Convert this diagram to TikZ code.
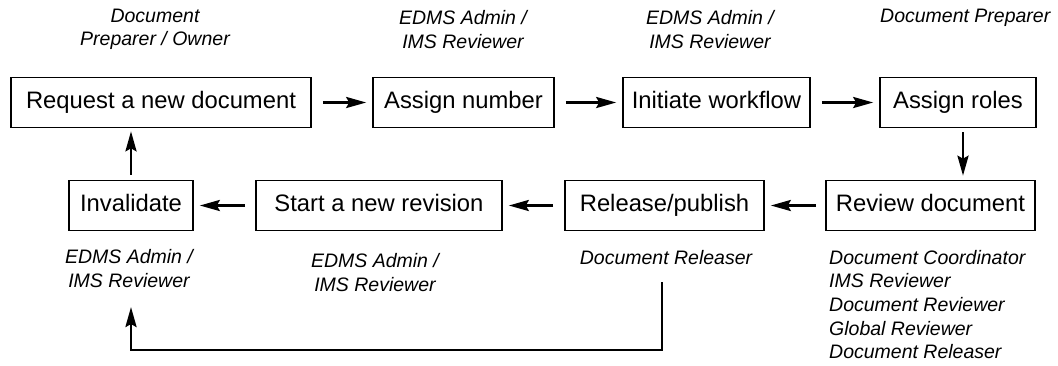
\documentclass[tikz,border=0pt]{standalone}
\usepackage{fontspec}
\setmainfont{Liberation Sans}
\usetikzlibrary{arrows.meta}

\begin{document}
\begin{tikzpicture}
[x=1pt,y=-1pt]
\tikzset{
	task/.style = {rectangle, draw, line width=1.6pt, minimum height=50pt, inner sep=0pt, text height=17.5pt, text depth=5pt, font=\fontsize{23.8}{28}\selectfont},
	role/.style = {inner sep=0pt, align=center, font=\fontsize{19.5}{23.6}\selectfont\itshape},
	flow/.style = {-{Stealth[length=20pt,width=11pt,inset=3pt]}, line width=2.8pt, shorten <=11pt, shorten >=6pt}
}
\useasboundingbox (0,0) rectangle (1058,365);

% top row
\node(req) [task, minimum width=300pt] at (161,102.5) {Request a new document};
\node(num) [task, minimum width=181pt] at (463.5,102.5) {Assign number};
\node(wf) [task, minimum width=187pt] at (716.5,102.5) {Initiate workflow};
\node(roles) [task, minimum width=156pt] at (958,102.5) {Assign roles};

% bottom row
\node(inv) [task, minimum width=124pt] at (131,205.5) {Invalidate};
\node(newrev) [task, minimum width=246pt] at (379,205.5) {Start a new revision};
\node(rel) [task, minimum width=199pt] at (664.5,205.5) {Release/publish};
\node(review) [task, minimum width=209pt] at (930.5,205.5) {Review document};

% who does what
\node(reqrole) [role] at (155,29.5) {Document\\Preparer / Owner};
\node(numrole) [role] at (463,29.5) {EDMS Admin /\\IMS Reviewer};
\node(wfrole) [role] at (710,29.5) {EDMS Admin /\\IMS Reviewer};
\node(rolesrole) [role, anchor=west] at (880,18) {Document Preparer};
\node(invrole) [role] at (129,268.5) {EDMS Admin /\\IMS Reviewer};
\node(newrevrole) [role] at (375,272.5) {EDMS Admin /\\IMS Reviewer};
\node(relrole) [role] at (666,258) {Document Releaser};
\node(reviewrole) [role, align=left, anchor=west] at (829,304.5) {Document Coordinator\\IMS Reviewer\\Document Reviewer\\Global Reviewer\\Document Releaser};

% flow
\draw [flow] (req) -- (num);
\draw [flow] (num) -- (wf);
\draw [flow] (wf) -- (roles);
\draw [flow, shorten <=4pt, shorten >=4pt] ([xshift=5pt]roles.south) -- ([xshift=5pt]roles.south |- review.north);
\draw [flow, shorten <=9pt] (review) -- (rel);
\draw [flow] (rel) -- (newrev);
\draw [flow, shorten <=10pt] (newrev) -- (inv);
\draw [flow, shorten <=5pt, shorten >=3pt] (inv) -- (req.south -| inv);

\coordinate (loopA) at (662,282);
\coordinate (loopB) at (131,307);
\draw [flow, shorten <=0pt, shorten >=0pt] (loopA) -- ++(0,68) -| (loopB);
\end{tikzpicture}
\end{document}
